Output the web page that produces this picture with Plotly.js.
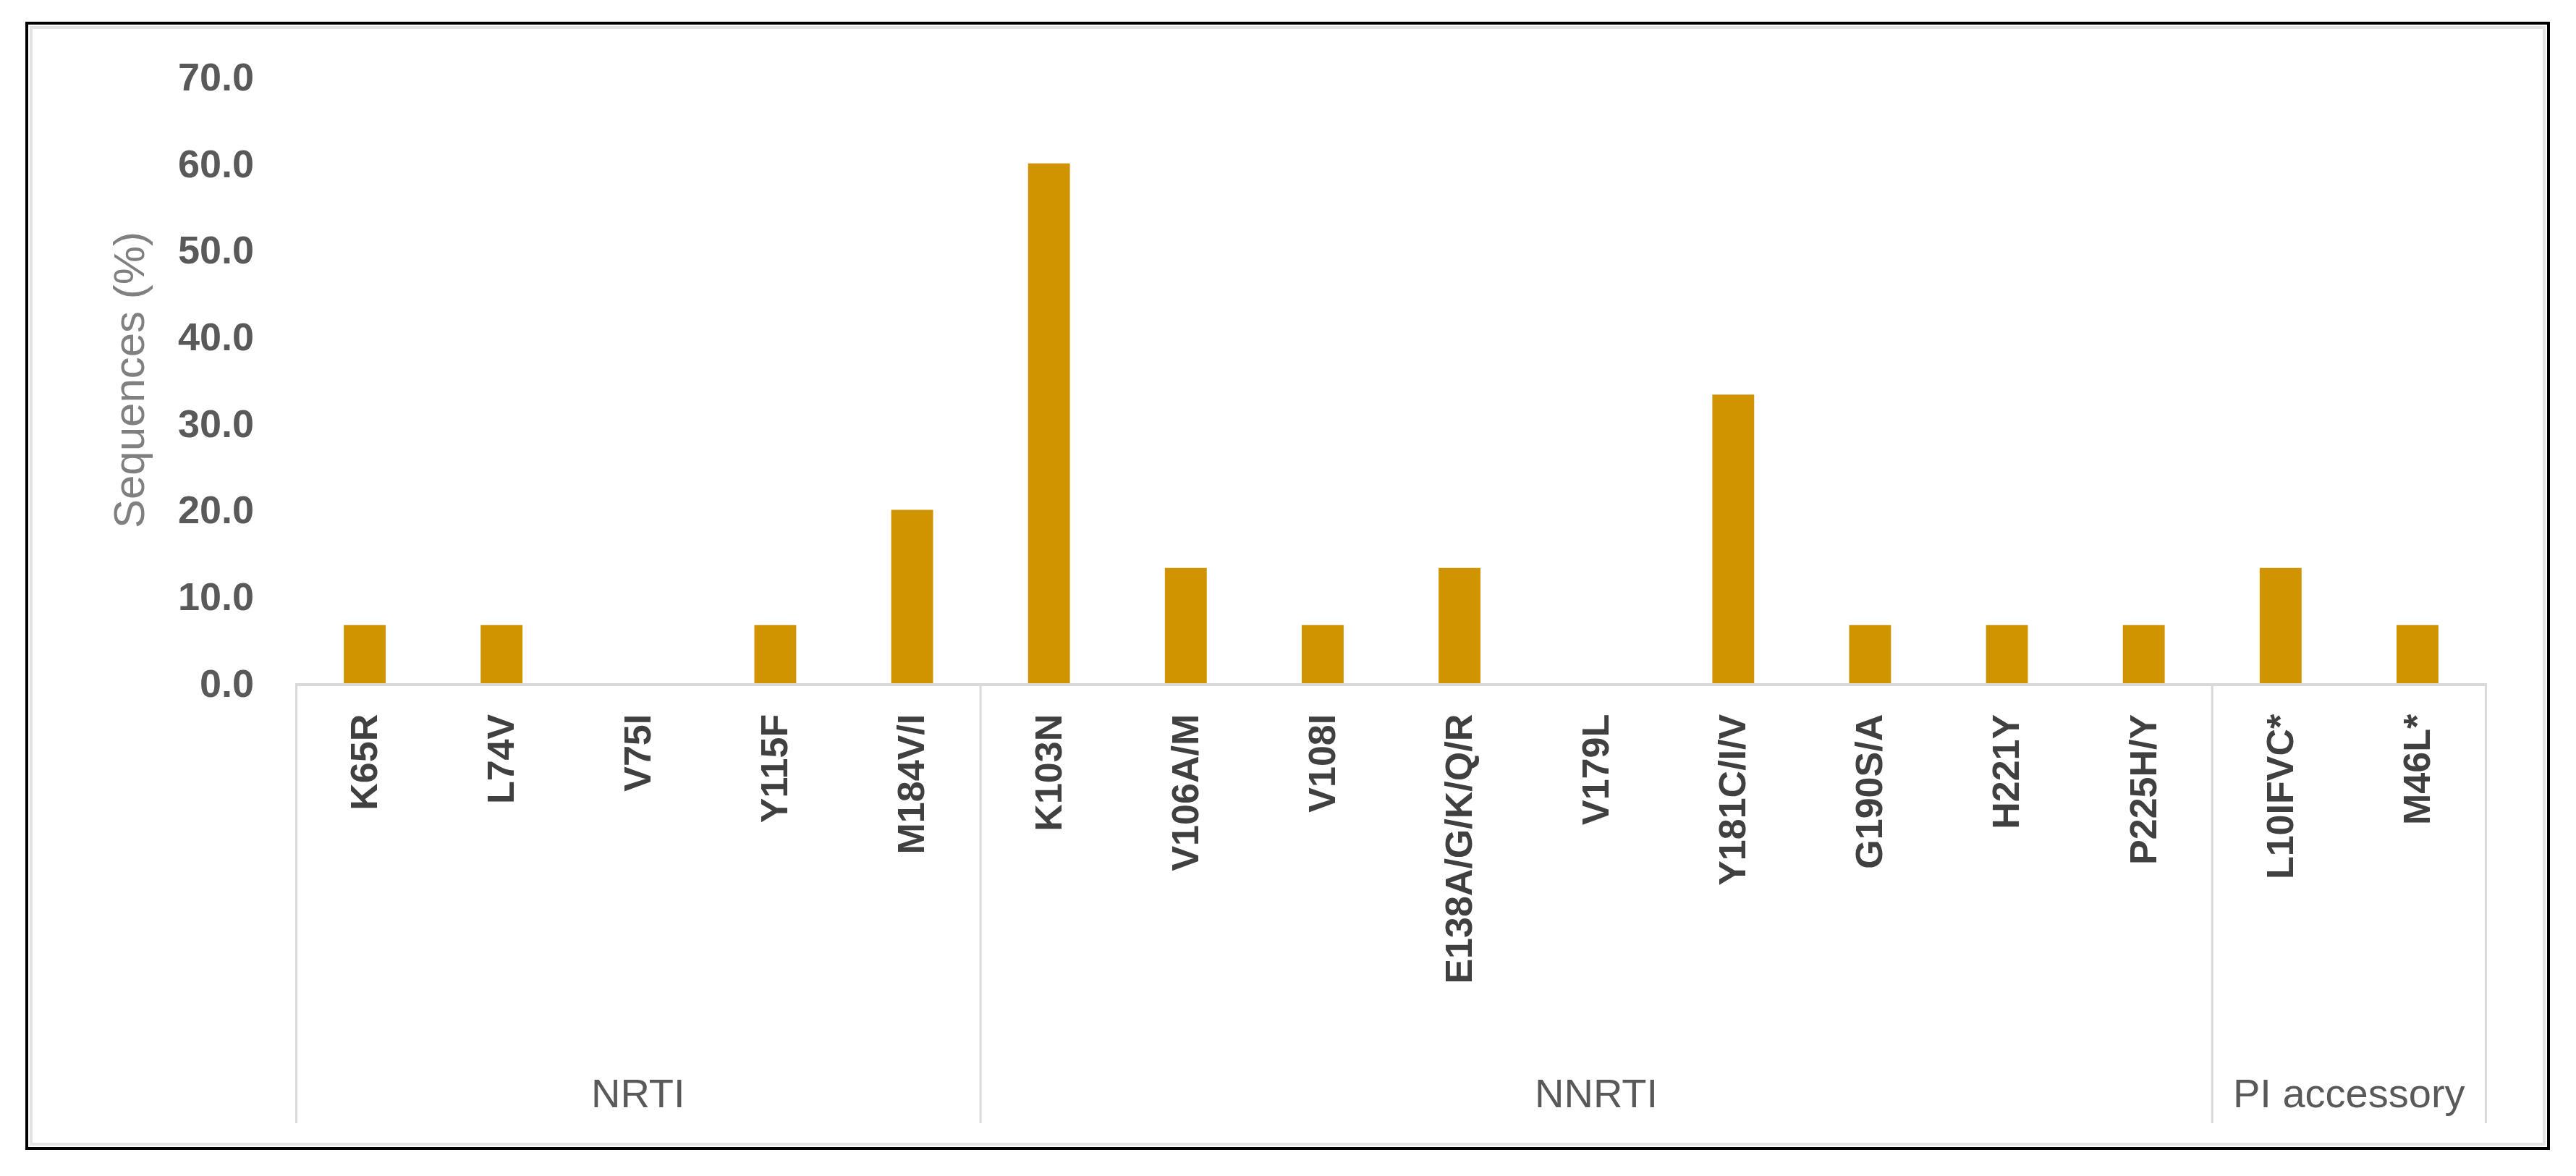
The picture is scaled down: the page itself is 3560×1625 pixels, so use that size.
<!DOCTYPE html>
<html>
<head>
<meta charset="utf-8">
<script src="https://cdn.plot.ly/plotly-3.0.1.min.js"></script>
<style>
  html, body { margin: 0; padding: 0; background: #ffffff; }
  #chart { width: 3560px; height: 1625px; }
</style>
</head>
<body>
<div id="chart"></div>
<script>
// ---- data ----
const categories = ['K65R', 'L74V', 'V75I', 'Y115F', 'M184V/I',
  'K103N', 'V106A/M', 'V108I', 'E138A/G/K/Q/R', 'V179L', 'Y181C/I/V', 'G190S/A', 'H221Y', 'P225H/Y',
  'L10IFVC*', 'M46L*'];
const values = [6.7, 6.7, 0.0, 6.7, 20.0,
  60.0, 13.3, 6.7, 13.3, 0.0, 33.3, 6.7, 6.7, 6.7,
  13.3, 6.7];
const groupNames = ['NRTI', 'NNRTI', 'PI accessory'];
const groupSizes = [5, 9, 2];
const yTicks = [0, 10, 20, 30, 40, 50, 60, 70];
const yTitle = 'Sequences (%)';

// ---- geometry helpers (pixel layout of the reference) ----
const W = 3560, H = 1625;
const plotL = 408, plotR = 3437, plotT = 106, plotB = 944;
const pw = plotR - plotL, ph = plotB - plotT;
const px = X => (X - plotL) / pw;
const py = Y => (plotB - Y) / ph;

const shapes = [];
const annotations = [];

// group dividers and labels
let start = 0;
const bounds = [-0.5];
groupNames.forEach((g, i) => {
  const end = start + groupSizes[i];
  bounds.push(end - 0.5);
  annotations.push({
    text: g, xref: 'x', yref: 'paper',
    x: (start + end - 1) / 2, y: py(1510),
    xanchor: 'center', yanchor: 'middle', showarrow: false,
    font: { family: 'Liberation Sans, Arial, sans-serif', size: 56, color: '#595959' }
  });
  start = end;
});
bounds.forEach(b => {
  shapes.push({
    type: 'line', xref: 'x', yref: 'paper',
    x0: b, x1: b, y0: 0, y1: py(1552),
    line: { color: '#d9d9d9', width: 3 }
  });
});

// outer frame (with faint inner shadow)
shapes.push({
  type: 'rect', xref: 'paper', yref: 'paper',
  x0: px(43), x1: px(3516), y0: py(38), y1: py(1581),
  line: { color: '#e3e3e3', width: 4 }
});
shapes.push({
  type: 'rect', xref: 'paper', yref: 'paper',
  x0: px(37), x1: px(3522), y0: py(32), y1: py(1587),
  line: { color: '#000000', width: 4 }
});

const trace = {
  type: 'bar',
  x: categories,
  y: values,
  marker: { color: '#D09400', line: { width: 0 } },
  hoverinfo: 'x+y'
};

const layout = {
  width: W, height: H,
  margin: { l: plotL, r: W - plotR, t: plotT, b: H - plotB, pad: 0 },
  paper_bgcolor: '#ffffff',
  plot_bgcolor: '#ffffff',
  showlegend: false,
  bargap: 0.694,
  font: { family: 'Liberation Sans, Arial, sans-serif', color: '#404040' },
  xaxis: {
    type: 'category',
    categoryorder: 'array',
    categoryarray: categories,
    tickangle: -90,
    tickfont: { family: 'Liberation Sans, Arial, sans-serif', size: 52, color: '#404040', weight: 'bold' },
    ticks: '',
    ticklabelstandoff: 18,
    showline: true, linecolor: '#d9d9d9', linewidth: 4,
    showgrid: false, zeroline: false,
    fixedrange: true
  },
  yaxis: {
    range: [0, 70],
    tickvals: yTicks,
    tickformat: '.1f',
    tickfont: { family: 'Liberation Sans, Arial, sans-serif', size: 54, color: '#595959', weight: 'bold' },
    ticks: '',
    ticklabelstandoff: 56,
    showline: false, showgrid: false, zeroline: false,
    title: {
      text: yTitle,
      font: { family: 'Liberation Sans, Arial, sans-serif', size: 60, color: '#808080' },
      standoff: 26
    },
    automargin: false,
    fixedrange: true
  },
  shapes: shapes,
  annotations: annotations
};

Plotly.newPlot('chart', [trace], layout, { displayModeBar: false, staticPlot: true });
</script>
</body>
</html>
